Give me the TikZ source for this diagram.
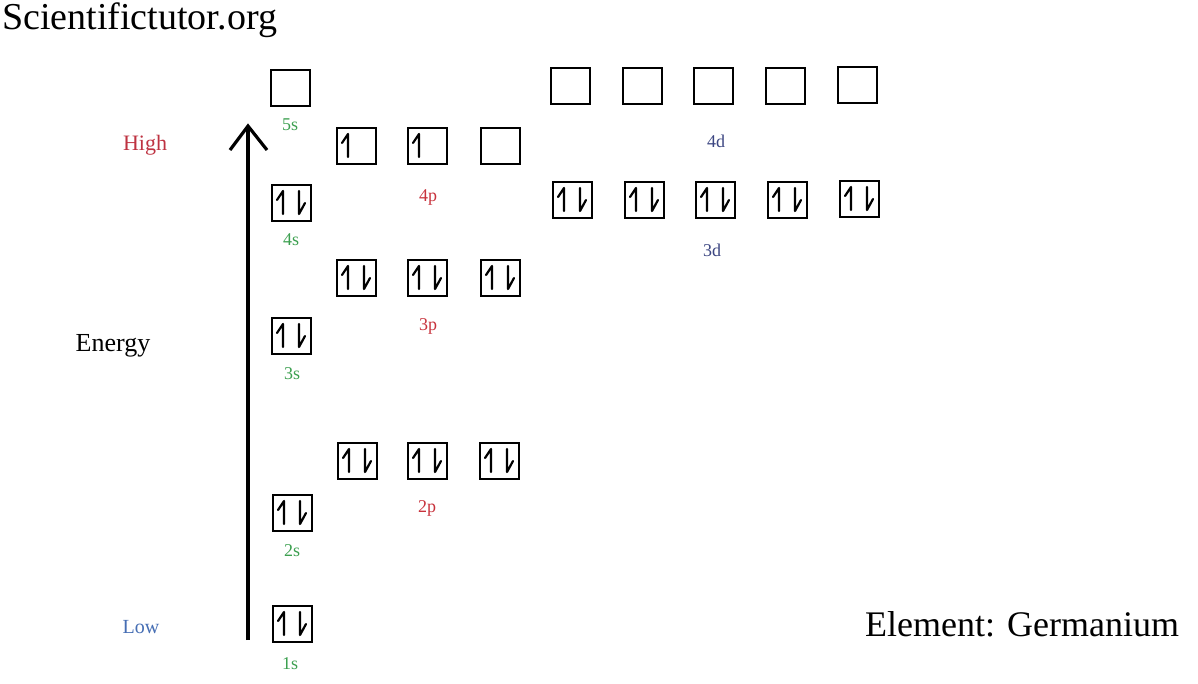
\documentclass[tikz,border=0pt]{standalone}
\usepackage{fontspec}
\setmainfont{Liberation Serif}
\definecolor{sgreen}{RGB}{60,160,80}
\definecolor{pred}{RGB}{200,50,60}
\definecolor{dblue}{RGB}{60,70,130}
\definecolor{lowblue}{RGB}{70,110,180}
\definecolor{highred}{RGB}{190,50,65}
\tikzset{
  orb/.style={draw, line width=1.3pt, minimum width=39pt, minimum height=36pt, inner sep=0pt},
  spin/.style={line width=2.2pt, line cap=round, line join=round},
  lbl/.style={font=\fontsize{18}{20}\selectfont, inner sep=0pt},
}
\newcommand\upspin[1]{\draw[spin] ([shift={(-14.5,-3)}]#1.center) -- ([shift={(-8.5,-12)}]#1.center) -- ([shift={(-8.5,11)}]#1.center);}
\newcommand\dnspin[1]{\draw[spin] ([shift={(7.5,-12)}]#1.center) -- ([shift={(7.5,11)}]#1.center) -- ([shift={(13.5,0)}]#1.center);}
\newcommand\pairspin[1]{\upspin{#1}\dnspin{#1}}
\begin{document}
\begin{tikzpicture}[x=1pt,y=-1pt]
\useasboundingbox[fill=white] (0,0) rectangle (1198,683);
% title texts
\node[anchor=base west, inner sep=0pt, font=\fontsize{38}{40}\selectfont] (title) at (2,29) {Scientifictutor.org};
\node[anchor=base west, inner sep=0pt, font=\fontsize{36}{40}\selectfont] (elem) at (865,636) {Element: Germanium};
% energy axis
\coordinate (abot) at (248,640);
\coordinate (atop) at (248,126);
\coordinate (wl) at (230,150);
\coordinate (wr) at (267,150);
\draw[line width=4pt] (abot) -- (atop);
\draw[line width=3.2pt, line join=miter] (wl) -- (atop) -- (wr);
\node[font=\fontsize{26}{28}\selectfont, inner sep=0pt] (energy) at (113,346) {Energy};
\node[font=\fontsize{22}{24}\selectfont, text=highred, inner sep=0pt] (high) at (145,145) {High};
\node[font=\fontsize{20}{22}\selectfont, text=lowblue, inner sep=0pt] (low) at (141,627) {Low};
% s orbitals
\node[orb] (s5) at (290.5,88) {};
\node[orb] (s4) at (291.5,203) {};
\node[orb] (s3) at (291.5,336) {};
\node[orb] (s2) at (292.5,513) {};
\node[orb] (s1) at (292.5,624) {};
\pairspin{s4}\pairspin{s3}\pairspin{s2}\pairspin{s1}
\node[lbl, text=sgreen] (l5s) at (290,125) {5s};
\node[lbl, text=sgreen] (l4s) at (291,240) {4s};
\node[lbl, text=sgreen] (l3s) at (292,374) {3s};
\node[lbl, text=sgreen] (l2s) at (292,551) {2s};
\node[lbl, text=sgreen] (l1s) at (290,664) {1s};
% p orbitals
\node[orb] (p4a) at (356.5,146) {};
\node[orb] (p4b) at (427.5,146) {};
\node[orb] (p4c) at (500.5,146) {};
\upspin{p4a}\upspin{p4b}
\node[orb] (p3a) at (356.5,278) {};
\node[orb] (p3b) at (427.5,278) {};
\node[orb] (p3c) at (500.5,278) {};
\pairspin{p3a}\pairspin{p3b}\pairspin{p3c}
\node[orb] (p2a) at (357.5,461) {};
\node[orb] (p2b) at (427.5,461) {};
\node[orb] (p2c) at (499.5,461) {};
\pairspin{p2a}\pairspin{p2b}\pairspin{p2c}
\node[lbl, text=pred] (l4p) at (428,197) {4p};
\node[lbl, text=pred] (l3p) at (428,326) {3p};
\node[lbl, text=pred] (l2p) at (427,508) {2p};
% d orbitals
\node[orb] (d4a) at (570.5,86) {};
\node[orb] (d4b) at (642.5,86) {};
\node[orb] (d4c) at (713.5,86) {};
\node[orb] (d4d) at (785.5,86) {};
\node[orb] (d4e) at (857.5,85) {};
\node[orb] (d3a) at (572.5,200) {};
\node[orb] (d3b) at (644.5,200) {};
\node[orb] (d3c) at (715.5,200) {};
\node[orb] (d3d) at (787.5,200) {};
\node[orb] (d3e) at (859.5,199) {};
\pairspin{d3a}\pairspin{d3b}\pairspin{d3c}\pairspin{d3d}\pairspin{d3e}
\node[lbl, text=dblue] (l4d) at (716,141) {4d};
\node[lbl, text=dblue] (l3d) at (712,250) {3d};
\end{tikzpicture}
\end{document}
